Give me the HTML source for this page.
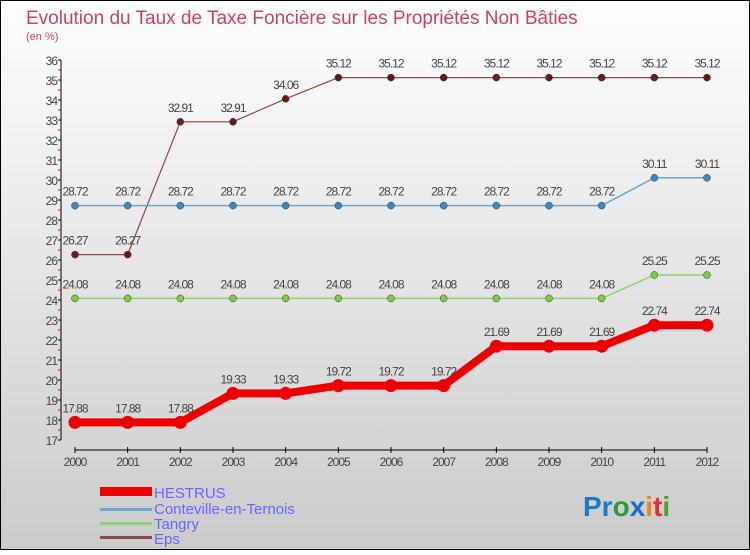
<!DOCTYPE html>
<html><head><meta charset="utf-8"><style>
body{margin:0;width:750px;height:550px;overflow:hidden;font-family:"Liberation Sans",sans-serif}
</style></head><body>
<svg width="750" height="550" xmlns="http://www.w3.org/2000/svg">
<defs><linearGradient id="bg" x1="0" y1="0" x2="0" y2="1"><stop offset="0" stop-color="#ffffff"/><stop offset="1" stop-color="#cbcbcb"/></linearGradient></defs>
<rect x="0.5" y="0.5" width="749" height="549" fill="url(#bg)" stroke="#000"/>
<text x="26" y="24" font-size="19" fill="#d04060">Evolution du Taux de Taxe Foncière sur les Propriétés Non Bâties</text>
<text x="26" y="40" font-size="11" fill="#d04060">(en %)</text>
<g id="axes"></g>
<g id="series"></g>
<g font-size="15" fill="#6666ff">
<rect x="100" y="487" width="52" height="9" fill="#e00"/>
<text x="154" y="498">HESTRUS</text>
<rect x="100" y="508" width="52" height="3" fill="#6fa6d0"/>
<text x="154" y="514">Conteville-en-Ternois</text>
<rect x="100" y="522" width="52" height="3" fill="#8fd46a"/>
<text x="154" y="529">Tangry</text>
<rect x="100" y="536" width="52" height="3" fill="#8a4a4a"/>
<text x="154" y="544">Eps</text>
</g>
<g font-size="28" font-weight="bold">
<text x="583" y="516"><tspan fill="#1a7ac8">Pr</tspan><tspan fill="#2a9a3a">o</tspan><tspan fill="#1a6ac8">x</tspan><tspan fill="#f08020">i</tspan><tspan fill="#e03030">t</tspan><tspan fill="#50a030">i</tspan></text>
</g>
</svg>
<script>
const years=[2000,2001,2002,2003,2004,2005,2006,2007,2008,2009,2010,2011,2012];
const hestrus=[17.88,17.88,17.88,19.33,19.33,19.72,19.72,19.72,21.69,21.69,21.69,22.74,22.74];
const conteville=[28.72,28.72,28.72,28.72,28.72,28.72,28.72,28.72,28.72,28.72,28.72,30.11,30.11];
const tangry=[24.08,24.08,24.08,24.08,24.08,24.08,24.08,24.08,24.08,24.08,24.08,25.25,25.25];
const eps=[26.27,26.27,32.91,32.91,34.06,35.12,35.12,35.12,35.12,35.12,35.12,35.12,35.12];
const yTicks=[17,18,19,20,21,22,23,24,25,26,27,28,29,30,31,32,33,34,35,36];
const NS='http://www.w3.org/2000/svg';
const X=i=>75+i*(707-75)/(years.length-1);
const Y=v=>440-(v-17)*20;
function mk(tag,attrs,parent){const e=document.createElementNS(NS,tag);for(const k in attrs)e.setAttribute(k,attrs[k]);parent.appendChild(e);return e;}
const ax=document.getElementById('axes');
const yAxis=mk('line',{x1:61,y1:Y(36),x2:61,y2:Y(17),stroke:'#000'},ax);


yTicks.forEach(t=>{
  mk('line',{x1:58,x2:61,y1:Y(t),y2:Y(t),stroke:'#000'},ax);
  if(t<36) mk('line',{x1:58,x2:61,y1:Y(t+0.5),y2:Y(t+0.5),stroke:'#e00'},ax);
  const tx=mk('text',{x:57,y:Y(t)+5,'text-anchor':'end','font-size':12,fill:'#444','letter-spacing':'-1'},ax);
  tx.textContent=t;
  
  
});
const xAxis=mk('line',{x1:75,y1:450,x2:707,y2:450,stroke:'#000'},ax);


years.forEach((y,i)=>{
  mk('line',{x1:X(i),x2:X(i),y1:447,y2:453,stroke:'#000'},ax);
  const tx=mk('text',{x:X(i),y:466,'text-anchor':'middle','font-size':12,fill:'#444','letter-spacing':'-1'},ax);
  tx.textContent=y;
  
  
});
const sg=document.getElementById('series');
function draw(name,data,color,w,r,dot){
  const g=mk('g',{},sg);
  
  
  const p=mk('polyline',{points:data.map((v,i)=>X(i)+','+Y(v)).join(' '),fill:'none',stroke:color,'stroke-width':w,'stroke-linejoin':'round'},g);
  
  
  data.forEach((v,i)=>{
    const c=mk('circle',{cx:X(i),cy:Y(v),r:r,fill:dot,stroke:r>5?'none':'#333','stroke-width':0.5},g);
    
    
    const t=mk('text',{x:X(i),y:Y(v)-10,'text-anchor':'middle','font-size':12,fill:'#444','letter-spacing':'-1'},g);
    t.textContent=v.toFixed(2);
    
    
  });
}
draw('eps',eps,'#8a4a4a',1.2,3.5,'#6a1a1a');
draw('conteville',conteville,'#6fa6d0',1.5,3.5,'#3a8ac8');
draw('tangry',tangry,'#8fd46a',1.5,3.5,'#7ad040');
draw('hestrus',hestrus,'#e00',8,6.5,'#e00');
</script>
</body></html>
